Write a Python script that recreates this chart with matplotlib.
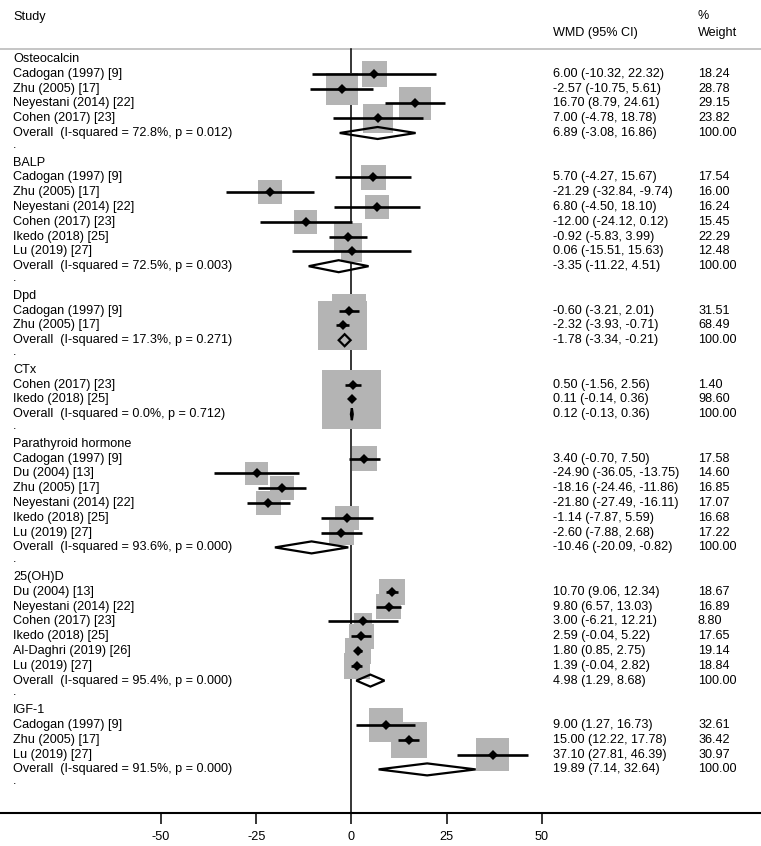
import matplotlib
matplotlib.use("Agg")
import matplotlib.pyplot as plt
from matplotlib.patches import Polygon, Rectangle
import numpy as np

plt.rcParams['font.family'] = ['Liberation Sans', 'DejaVu Sans']

# ---------------- data ----------------
groups = ["Osteocalcin", "BALP", "Dpd", "CTx", "Parathyroid hormone", "25(OH)D", "IGF-1"]

studies = [
    ["Cadogan (1997) [9]", "Zhu (2005) [17]", "Neyestani (2014) [22]", "Cohen (2017) [23]"],
    ["Cadogan (1997) [9]", "Zhu (2005) [17]", "Neyestani (2014) [22]", "Cohen (2017) [23]",
     "Ikedo (2018) [25]", "Lu (2019) [27]"],
    ["Cadogan (1997) [9]", "Zhu (2005) [17]"],
    ["Cohen (2017) [23]", "Ikedo (2018) [25]"],
    ["Cadogan (1997) [9]", "Du (2004) [13]", "Zhu (2005) [17]", "Neyestani (2014) [22]",
     "Ikedo (2018) [25]", "Lu (2019) [27]"],
    ["Du (2004) [13]", "Neyestani (2014) [22]", "Cohen (2017) [23]", "Ikedo (2018) [25]",
     "Al-Daghri (2019) [26]", "Lu (2019) [27]"],
    ["Cadogan (1997) [9]", "Zhu (2005) [17]", "Lu (2019) [27]"],
]
wmd = [
    [6.00, -2.57, 16.70, 7.00],
    [5.70, -21.29, 6.80, -12.00, -0.92, 0.06],
    [-0.60, -2.32],
    [0.50, 0.11],
    [3.40, -24.90, -18.16, -21.80, -1.14, -2.60],
    [10.70, 9.80, 3.00, 2.59, 1.80, 1.39],
    [9.00, 15.00, 37.10],
]
lower = [
    [-10.32, -10.75, 8.79, -4.78],
    [-4.27, -32.84, -4.50, -24.12, -5.83, -15.51],
    [-3.21, -3.93],
    [-1.56, -0.14],
    [-0.70, -36.05, -24.46, -27.49, -7.87, -7.88],
    [9.06, 6.57, -6.21, -0.04, 0.85, -0.04],
    [1.27, 12.22, 27.81],
]
upper = [
    [22.32, 5.61, 24.61, 18.78],
    [15.67, -9.74, 18.10, 0.12, 3.99, 15.63],
    [2.01, -0.71],
    [2.56, 0.36],
    [7.50, -13.75, -11.86, -16.11, 5.59, 2.68],
    [12.34, 13.03, 12.21, 5.22, 2.75, 2.82],
    [16.73, 17.78, 46.39],
]
weights = [
    [18.24, 28.78, 29.15, 23.82],
    [17.54, 16.00, 16.24, 15.45, 22.29, 12.48],
    [31.51, 68.49],
    [1.40, 98.60],
    [17.58, 14.60, 16.85, 17.07, 16.68, 17.22],
    [18.67, 16.89, 8.80, 17.65, 19.14, 18.84],
    [32.61, 36.42, 30.97],
]
i2 = ["72.8%", "72.5%", "17.3%", "0.0%", "93.6%", "95.4%", "91.5%"]
pval = ["0.012", "0.003", "0.271", "0.712", "0.000", "0.000", "0.000"]
ov_est = [6.89, -3.35, -1.78, 0.12, -10.46, 4.98, 19.89]
ov_lo = [-3.08, -11.22, -3.34, -0.13, -20.09, 1.29, 7.14]
ov_hi = [16.86, 4.51, -0.21, 0.36, -0.82, 8.68, 32.64]

xticks = [-50, -25, 0, 25, 50]

# ---------------- layout ----------------
W, H = 761, 846
fig = plt.figure(figsize=(W / 100, H / 100), dpi=100)
axis_px = 813
ax = fig.add_axes([0, (H - axis_px) / H, 1, axis_px / H])

row0_px = 59.0
row_h = 14.8
px_per_unit = 95.2 / 25.0
x0_px = 351.4
xmin = -x0_px / px_per_unit
xmax = (W - x0_px) / px_per_unit
ax.set_xlim(xmin, xmax)
ax.set_ylim((axis_px - row0_px) / row_h, -row0_px / row_h)

def py(px):
    return (px - row0_px) / row_h

def px2x(px):
    return (px - x0_px) / px_per_unit

fs = 9.1
x_label = px2x(13)
x_wmd = px2x(553)
x_w = px2x(698)

# header
ax.text(x_label, py(17), "Study", fontsize=fs, va="center", ha="left")
ax.text(x_wmd, py(33), "WMD (95% CI)", fontsize=fs, va="center", ha="left")
ax.text(x_w, py(16), "%", fontsize=fs, va="center", ha="left")
ax.text(x_w, py(33), "Weight", fontsize=fs, va="center", ha="left")
ax.plot([xmin, xmax], [py(49), py(49)], color="#c0c0c0", lw=1.3, zorder=1, clip_on=False)

# zero line
ax.plot([0, 0], [py(49), py(axis_px)], color="black", lw=1.1, zorder=1)

k_side = 32.0 / np.sqrt(28.78)  # pixels per sqrt(weight)

row = 0
for g in range(len(groups)):
    ax.text(x_label, row, groups[g], fontsize=fs, va="center", ha="left")
    row += 1
    for s in range(len(studies[g])):
        est, lo, hi, w = wmd[g][s], lower[g][s], upper[g][s], weights[g][s]
        ax.text(x_label, row, studies[g][s], fontsize=fs, va="center", ha="left")
        ax.text(x_wmd, row, f"{est:.2f} ({lo:.2f}, {hi:.2f})", fontsize=fs, va="center", ha="left")
        ax.text(x_w, row, f"{w:.2f}", fontsize=fs, va="center", ha="left")
        side = k_side * np.sqrt(w)
        hw = side / 2 / px_per_unit
        hh = side / 2 / row_h
        ax.add_patch(Rectangle((est - hw, row - hh), 2 * hw, 2 * hh,
                               facecolor="#b4b4b4", edgecolor="none", zorder=2))
        ax.plot([lo, hi], [row, row], color="black", lw=1.9, zorder=3,
                solid_capstyle="butt")
        ax.plot([est], [row], marker="D", color="black", markersize=4.6, zorder=4,
                markeredgewidth=0)
        row += 1
    ax.text(x_label, row, f"Overall  (I-squared = {i2[g]}, p = {pval[g]})",
            fontsize=fs, va="center", ha="left")
    ax.text(x_wmd, row, f"{ov_est[g]:.2f} ({ov_lo[g]:.2f}, {ov_hi[g]:.2f})",
            fontsize=fs, va="center", ha="left")
    ax.text(x_w, row, "100.00", fontsize=fs, va="center", ha="left")
    dh = 6.0 / row_h
    ax.add_patch(Polygon([[ov_lo[g], row], [ov_est[g], row - dh], [ov_hi[g], row],
                          [ov_est[g], row + dh]], closed=True, facecolor="none",
                         edgecolor="black", lw=1.6, zorder=5))
    row += 1
    ax.text(x_label, row - 0.2, ".", fontsize=fs, va="center", ha="left")
    row += 1

# axis styling
for sp in ["top", "left", "right"]:
    ax.spines[sp].set_visible(False)
ax.spines["bottom"].set_linewidth(1.5)
ax.set_yticks([])
ax.set_xticks(xticks)
ax.set_xticklabels([str(t) for t in xticks], fontsize=fs)
ax.tick_params(axis="x", direction="out", length=8, width=1.1, pad=5)
ax.patch.set_alpha(0)

fig.savefig("out.png", dpi=100)
